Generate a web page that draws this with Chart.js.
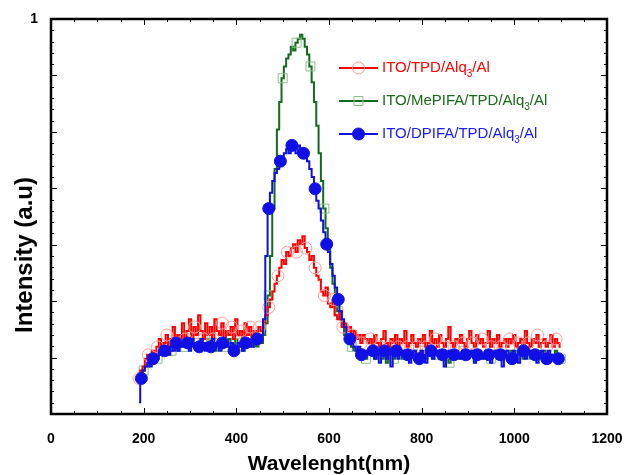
<!DOCTYPE html>
<html>
<head>
<meta charset="utf-8">
<script src="https://cdn.jsdelivr.net/npm/chart.js@4"></script>
<style>
  html, body { margin: 0; padding: 0; background: #fff; }
  #wrap { width: 625px; height: 475px; }
</style>
</head>
<body>
<div id="wrap"><canvas id="chart" width="625" height="475"></canvas></div>
<script>
/* ---------- Data (5 nm grid) ---------- */
const wavelengths = [
  190, 195, 200, 205, 210, 215, 220, 225, 230, 235, 240, 245, 250, 255, 260, 265, 270, 275, 280, 285,
  290, 295, 300, 305, 310, 315, 320, 325, 330, 335, 340, 345, 350, 355, 360, 365, 370, 375, 380, 385,
  390, 395, 400, 405, 410, 415, 420, 425, 430, 435, 440, 445, 450, 455, 460, 465, 470, 475, 480, 485,
  490, 495, 500, 505, 510, 515, 520, 525, 530, 535, 540, 545, 550, 555, 560, 565, 570, 575, 580, 585,
  590, 595, 600, 605, 610, 615, 620, 625, 630, 635, 640, 645, 650, 655, 660, 665, 670, 675, 680, 685,
  690, 695, 700, 705, 710, 715, 720, 725, 730, 735, 740, 745, 750, 755, 760, 765, 770, 775, 780, 785,
  790, 795, 800, 805, 810, 815, 820, 825, 830, 835, 840, 845, 850, 855, 860, 865, 870, 875, 880, 885,
  890, 895, 900, 905, 910, 915, 920, 925, 930, 935, 940, 945, 950, 955, 960, 965, 970, 975, 980, 985,
  990, 995, 1000, 1005, 1010, 1015, 1020, 1025, 1030, 1035, 1040, 1045, 1050, 1055, 1060, 1065, 1070, 1075, 1080, 1085,
  1090, 1095, 1100
];

// ITO/TPD/Alq3/Al
const tpd = [
  0.09, 0.11, 0.12, 0.14, 0.15, 0.13, 0.16, 0.15, 0.17, 0.19, 0.16, 0.18, 0.20, 0.17, 0.19, 0.22, 0.18, 0.20, 0.19, 0.23,
  0.19, 0.21, 0.24, 0.19, 0.22, 0.20, 0.25, 0.21, 0.19, 0.23, 0.20, 0.22, 0.19, 0.24, 0.21, 0.20, 0.23, 0.19, 0.21, 0.20,
  0.22, 0.19, 0.24, 0.20, 0.21, 0.19, 0.23, 0.20, 0.22, 0.19, 0.21, 0.20, 0.22, 0.21, 0.23, 0.25, 0.27, 0.29, 0.31, 0.33,
  0.35, 0.37, 0.39, 0.38, 0.41, 0.40, 0.42, 0.43, 0.41, 0.44, 0.43, 0.45, 0.42, 0.41, 0.39, 0.40, 0.37, 0.35, 0.34, 0.31,
  0.30, 0.32, 0.28, 0.27, 0.29, 0.25, 0.24, 0.26, 0.22, 0.23, 0.21, 0.22, 0.20, 0.21, 0.19, 0.20, 0.18, 0.20, 0.19, 0.18,
  0.19, 0.17, 0.20, 0.18, 0.17, 0.19, 0.21, 0.18, 0.17, 0.19, 0.18, 0.20, 0.17, 0.19, 0.18, 0.21, 0.17, 0.18, 0.20, 0.18,
  0.17, 0.19, 0.18, 0.20, 0.17, 0.18, 0.21, 0.18, 0.19, 0.17, 0.20, 0.18, 0.17, 0.19, 0.22, 0.18, 0.17, 0.19, 0.18, 0.20,
  0.18, 0.17, 0.19, 0.21, 0.18, 0.17, 0.20, 0.18, 0.19, 0.17, 0.18, 0.21, 0.17, 0.19, 0.18, 0.20, 0.17, 0.18, 0.19, 0.17,
  0.19, 0.18, 0.20, 0.17, 0.18, 0.19, 0.17, 0.21, 0.18, 0.17, 0.19, 0.18, 0.20, 0.17, 0.18, 0.19, 0.17, 0.18, 0.20, 0.17,
  0.19, 0.18, 0.17
];

// ITO/MePIFA/TPD/Alq3/Al
const mepifa = [
  0.08, 0.09, 0.11, 0.12, 0.12, 0.14, 0.13, 0.15, 0.14, 0.15, 0.16, 0.15, 0.17, 0.16, 0.16, 0.17, 0.18, 0.16, 0.17, 0.18,
  0.17, 0.18, 0.17, 0.19, 0.18, 0.17, 0.18, 0.19, 0.17, 0.18, 0.19, 0.17, 0.18, 0.16, 0.18, 0.19, 0.17, 0.18, 0.17, 0.19,
  0.18, 0.17, 0.19, 0.17, 0.18, 0.16, 0.18, 0.17, 0.18, 0.17, 0.18, 0.17, 0.19, 0.18, 0.20, 0.23, 0.30, 0.40, 0.52, 0.62,
  0.72, 0.79, 0.85, 0.88, 0.90, 0.91, 0.93, 0.92, 0.94, 0.95, 0.96, 0.95, 0.93, 0.91, 0.88, 0.84, 0.79, 0.73, 0.66, 0.59,
  0.52, 0.47, 0.42, 0.37, 0.33, 0.29, 0.26, 0.24, 0.22, 0.20, 0.19, 0.18, 0.17, 0.16, 0.17, 0.15, 0.16, 0.15, 0.14, 0.16,
  0.15, 0.16, 0.14, 0.15, 0.16, 0.14, 0.15, 0.13, 0.15, 0.16, 0.14, 0.15, 0.16, 0.15, 0.14, 0.16, 0.15, 0.14, 0.15, 0.16,
  0.15, 0.14, 0.16, 0.15, 0.14, 0.15, 0.16, 0.14, 0.15, 0.16, 0.15, 0.14, 0.16, 0.15, 0.13, 0.15, 0.16, 0.15, 0.14, 0.15,
  0.16, 0.15, 0.14, 0.16, 0.15, 0.14, 0.15, 0.16, 0.15, 0.14, 0.16, 0.15, 0.14, 0.15, 0.16, 0.14, 0.15, 0.16, 0.15, 0.14,
  0.15, 0.16, 0.14, 0.15, 0.16, 0.15, 0.14, 0.15, 0.16, 0.14, 0.15, 0.16, 0.15, 0.14, 0.15, 0.16, 0.14, 0.15, 0.14, 0.15,
  0.16, 0.15, 0.14
];

// ITO/DPIFA/TPD/Alq3/Al
const dpifa = [
  0.03, 0.09, 0.11, 0.12, 0.13, 0.12, 0.14, 0.15, 0.14, 0.16, 0.15, 0.16, 0.17, 0.15, 0.17, 0.16, 0.18, 0.16, 0.17, 0.18,
  0.17, 0.18, 0.16, 0.19, 0.17, 0.18, 0.17, 0.19, 0.18, 0.16, 0.18, 0.17, 0.19, 0.17, 0.18, 0.16, 0.18, 0.17, 0.18, 0.17,
  0.18, 0.16, 0.17, 0.18, 0.17, 0.16, 0.18, 0.17, 0.18, 0.17, 0.18, 0.19, 0.18, 0.20, 0.24, 0.40, 0.52, 0.56, 0.59, 0.61,
  0.62, 0.64, 0.65, 0.66, 0.67, 0.66, 0.68, 0.67, 0.66, 0.68, 0.67, 0.66, 0.66, 0.64, 0.62, 0.60, 0.57, 0.54, 0.52, 0.49,
  0.46, 0.43, 0.41, 0.38, 0.35, 0.32, 0.29, 0.26, 0.24, 0.22, 0.20, 0.19, 0.18, 0.17, 0.16, 0.17, 0.15, 0.16, 0.15, 0.16,
  0.15, 0.16, 0.14, 0.15, 0.13, 0.15, 0.16, 0.14, 0.15, 0.12, 0.15, 0.16, 0.14, 0.15, 0.16, 0.14, 0.15, 0.13, 0.15, 0.16,
  0.15, 0.14, 0.16, 0.15, 0.13, 0.15, 0.16, 0.14, 0.15, 0.16, 0.14, 0.15, 0.12, 0.15, 0.16, 0.14, 0.15, 0.16, 0.15, 0.14,
  0.16, 0.15, 0.14, 0.15, 0.16, 0.13, 0.15, 0.16, 0.14, 0.15, 0.16, 0.15, 0.13, 0.15, 0.16, 0.14, 0.15, 0.12, 0.15, 0.16,
  0.15, 0.14, 0.16, 0.15, 0.13, 0.15, 0.16, 0.14, 0.15, 0.16, 0.14, 0.15, 0.13, 0.15, 0.16, 0.15, 0.14, 0.16, 0.15, 0.14,
  0.15, 0.14, 0.15
];

const legendLabels = [
  ['ITO/TPD/Alq', '3', '/Al'],
  ['ITO/MePIFA/TPD/Alq', '3', '/Al'],
  ['ITO/DPIFA/TPD/Alq', '3', '/Al']
];

const xTicks = [0, 200, 400, 600, 800, 1000, 1200];
const yLabelTicks = [1];
const yTitle = 'Intensity (a.u)';

/* ---------- Helpers ---------- */
const FONT = '"Liberation Sans", Arial, sans-serif';
const pts = arr => arr.map((v, i) => ({ x: wavelengths[i], y: v }));

// markers only on some of the points, like the original plot
const every = (n, off, r) => ctx => (ctx.dataIndex % n === off ? r : 0);

/* ---------- Frame + inward ticks ---------- */
const frameTicks = {
  id: 'frameTicks',
  afterDatasetsDraw(c) {
    const { ctx, chartArea: a, scales: { x, y } } = c;
    ctx.save();
    ctx.strokeStyle = '#000';
    ctx.lineWidth = 1;
    ctx.beginPath();
    for (let v = 0; v <= 1200; v += 50) {
      const px = Math.round(x.getPixelForValue(v)) + 0.5;
      const len = v % 200 === 0 ? 6 : 3;
      ctx.moveTo(px, a.bottom); ctx.lineTo(px, a.bottom - len);
      ctx.moveTo(px, a.top); ctx.lineTo(px, a.top + len);
    }
    for (let i = 0; i <= 35; i++) {
      const py = Math.round(y.getPixelForValue(i / 35)) + 0.5;
      const len = i % 5 === 0 ? 6 : 3;
      ctx.moveTo(a.left, py); ctx.lineTo(a.left + len, py);
      ctx.moveTo(a.right, py); ctx.lineTo(a.right - len, py);
    }
    ctx.stroke();
    ctx.lineWidth = 2.5;
    ctx.strokeRect(a.left, a.top, a.right - a.left, a.bottom - a.top);

    // y title sits below the middle of the axis in the original
    ctx.translate(25, 255);
    ctx.rotate(-Math.PI / 2);
    ctx.fillStyle = '#000';
    ctx.font = 'bold 24px ' + FONT;
    ctx.textAlign = 'center';
    ctx.textBaseline = 'middle';
    ctx.fillText(yTitle, 0, 0);
    ctx.restore();
  }
};

/* ---------- Legend (line + marker + text with subscript) ---------- */
const sideLegend = {
  id: 'sideLegend',
  afterDraw(c) {
    const { ctx } = c;
    const rows = [68, 101, 134];
    const x0 = 339, x1 = 378, tx = 382;
    ctx.save();
    c.data.datasets.forEach((ds, i) => {
      const y = rows[i];
      ctx.strokeStyle = ds.borderColor;
      ctx.lineWidth = 2;
      ctx.beginPath(); ctx.moveTo(x0, y); ctx.lineTo(x1, y); ctx.stroke();

      const mx = (x0 + x1) / 2;
      ctx.lineWidth = 1;
      ctx.strokeStyle = ds.pointBorderColor;
      ctx.fillStyle = ds.pointBackgroundColor;
      ctx.beginPath();
      if (ds.pointStyle === 'rect') ctx.rect(mx - 4.5, y - 4.5, 9, 9);
      else ctx.arc(mx, y, 6, 0, Math.PI * 2);
      ctx.fill(); ctx.stroke();

      const [a, sub, b] = legendLabels[i];
      ctx.fillStyle = ds.legendText;
      ctx.textBaseline = 'middle';
      ctx.font = '15px ' + FONT;
      ctx.fillText(a, tx, y);
      let w = tx + ctx.measureText(a).width;
      ctx.font = '10px ' + FONT;
      ctx.fillText(sub, w, y + 6);
      w += ctx.measureText(sub).width;
      ctx.font = '15px ' + FONT;
      ctx.fillText(b, w, y);
    });
    ctx.restore();
  }
};

/* ---------- Chart ---------- */
new Chart(document.getElementById('chart'), {
  type: 'line',
  data: {
    datasets: [
      {
        label: legendLabels[0].join(''),
        data: pts(tpd),
        borderColor: '#ff0000',
        borderWidth: 2,
        stepped: 'middle',
        pointStyle: 'circle',
        pointRadius: every(4, 0, 6),
        pointBorderWidth: 1,
        pointBorderColor: '#ff9a9a',
        pointBackgroundColor: 'rgba(255,255,255,0)',
        legendText: '#ff0000',
        order: 1
      },
      {
        label: legendLabels[1].join(''),
        data: pts(mepifa),
        borderColor: '#136b1f',
        borderWidth: 2,
        stepped: 'middle',
        pointStyle: 'rect',
        pointRadius: every(6, 2, 6.4),
        pointBorderWidth: 1,
        pointBorderColor: '#8cc08c',
        pointBackgroundColor: 'rgba(255,255,255,0)',
        legendText: '#1a6b1a',
        order: 2
      },
      {
        label: legendLabels[2].join(''),
        data: pts(dpifa),
        borderColor: '#1010e6',
        borderWidth: 2,
        stepped: 'middle',
        pointStyle: 'circle',
        pointRadius: every(5, 1, 6),
        pointBorderWidth: 1,
        pointBorderColor: '#1010e6',
        pointBackgroundColor: '#1010e6',
        legendText: '#1a1aff',
        order: 0
      }
    ]
  },
  options: {
    responsive: false,
    animation: false,
    devicePixelRatio: 1,
    layout: { padding: { top: 19, right: 0, left: 0, bottom: 0 } },
    plugins: { legend: { display: false }, tooltip: { enabled: false } },
    elements: { line: { tension: 0 } },
    scales: {
      x: {
        type: 'linear',
        min: 0, max: 1200,
        afterBuildTicks: s => { s.ticks = xTicks.map(v => ({ value: v })); },
        afterFit: s => { s.height = 61; s.paddingRight = 18; s.paddingLeft = 0; },
        grid: { display: false },
        border: { display: false },
        ticks: {
          color: '#000', padding: 9, maxRotation: 0,
          callback: v => String(v),
          font: { family: FONT, size: 14, weight: 'bold' }
        },
        title: {
          display: true, text: 'Wavelenght(nm)', color: '#000',
          font: { family: FONT, size: 21, weight: 'bold', lineHeight: 1 },
          padding: { top: 0, bottom: 0 }
        }
      },
      y: {
        type: 'linear',
        min: 0, max: 1,
        afterBuildTicks: s => { s.ticks = yLabelTicks.map(v => ({ value: v })); },
        afterFit: s => { s.width = 51; },
        grid: { display: false },
        border: { display: false },
        ticks: {
          color: '#000', padding: 5,
          callback: v => String(v),
          font: { family: FONT, size: 14, weight: 'bold' }
        }
      }
    }
  },
  plugins: [frameTicks, sideLegend]
});
</script>
</body>
</html>
